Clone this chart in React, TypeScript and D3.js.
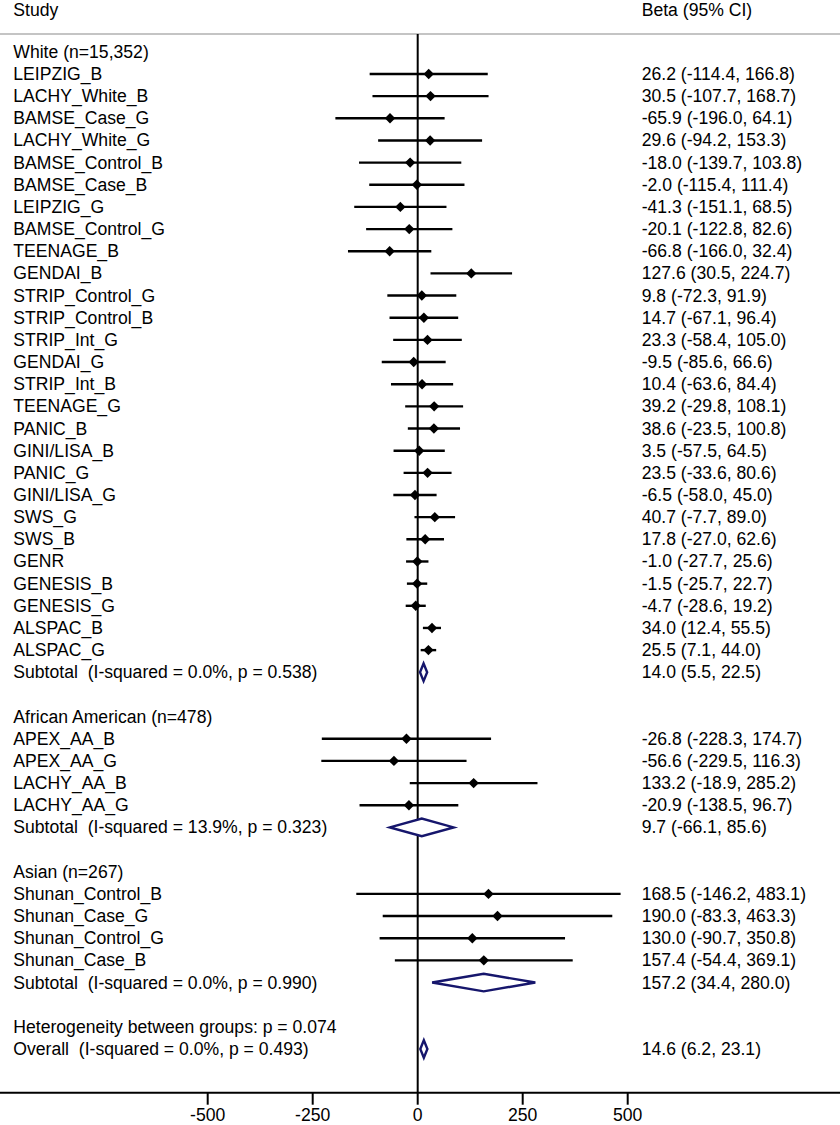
import { useEffect, useRef } from 'react';
import * as d3 from 'd3';

const W = 840;
const H = 1125;

// study rows, per group
const whiteStudies = [
  'LEIPZIG_B', 'LACHY_White_B', 'BAMSE_Case_G', 'LACHY_White_G', 'BAMSE_Control_B', 'BAMSE_Case_B',
  'LEIPZIG_G', 'BAMSE_Control_G', 'TEENAGE_B', 'GENDAI_B', 'STRIP_Control_G', 'STRIP_Control_B',
  'STRIP_Int_G', 'GENDAI_G', 'STRIP_Int_B', 'TEENAGE_G', 'PANIC_B', 'GINI/LISA_B', 'PANIC_G',
  'GINI/LISA_G', 'SWS_G', 'SWS_B', 'GENR', 'GENESIS_B', 'GENESIS_G', 'ALSPAC_B', 'ALSPAC_G',
];
const whiteBeta = [26.2, 30.5, -65.9, 29.6, -18.0, -2.0, -41.3, -20.1, -66.8, 127.6, 9.8, 14.7, 23.3, -9.5, 10.4, 39.2, 38.6, 3.5, 23.5, -6.5, 40.7, 17.8, -1.0, -1.5, -4.7, 34.0, 25.5];
const whiteLow = [-114.4, -107.7, -196.0, -94.2, -139.7, -115.4, -151.1, -122.8, -166.0, 30.5, -72.3, -67.1, -58.4, -85.6, -63.6, -29.8, -23.5, -57.5, -33.6, -58.0, -7.7, -27.0, -27.7, -25.7, -28.6, 12.4, 7.1];
const whiteHigh = [166.8, 168.7, 64.1, 153.3, 103.8, 111.4, 68.5, 82.6, 32.4, 224.7, 91.9, 96.4, 105.0, 66.6, 84.4, 108.1, 100.8, 64.5, 80.6, 45.0, 89.0, 62.6, 25.6, 22.7, 19.2, 55.5, 44.0];

const aaStudies = ['APEX_AA_B', 'APEX_AA_G', 'LACHY_AA_B', 'LACHY_AA_G'];
const aaBeta = [-26.8, -56.6, 133.2, -20.9];
const aaLow = [-228.3, -229.5, -18.9, -138.5];
const aaHigh = [174.7, 116.3, 285.2, 96.7];

const asianStudies = ['Shunan_Control_B', 'Shunan_Case_G', 'Shunan_Control_G', 'Shunan_Case_B'];
const asianBeta = [168.5, 190.0, 130.0, 157.4];
const asianLow = [-146.2, -83.3, -90.7, -54.4];
const asianHigh = [483.1, 463.3, 350.8, 369.1];

const groupNames = ['White (n=15,352)', 'African American (n=478)', 'Asian (n=267)'];
const subtotalLabels = [
  'Subtotal  (I-squared = 0.0%, p = 0.538)',
  'Subtotal  (I-squared = 13.9%, p = 0.323)',
  'Subtotal  (I-squared = 0.0%, p = 0.990)',
];
const subtotalBeta = [14.0, 9.7, 157.2];
const subtotalLow = [5.5, -66.1, 34.4];
const subtotalHigh = [22.5, 85.6, 280.0];

const heterogeneityLabel = 'Heterogeneity between groups: p = 0.074';
const overallLabel = 'Overall  (I-squared = 0.0%, p = 0.493)';
const overallBeta = 14.6;
const overallLow = 6.2;
const overallHigh = 23.1;

const xTicks = [-500, -250, 0, 250, 500];

type Row = { label: string; kind: 'head' | 'study' | 'sub' | 'text' | 'blank'; b?: number; lo?: number; hi?: number };

export default function App() {
  const ref = useRef<SVGSVGElement>(null);

  useEffect(() => {
    document.body.style.margin = '0';
    const svg = d3.select(ref.current);
    svg.selectAll('*').remove();

    const groups = [
      { names: whiteStudies, b: whiteBeta, lo: whiteLow, hi: whiteHigh },
      { names: aaStudies, b: aaBeta, lo: aaLow, hi: aaHigh },
      { names: asianStudies, b: asianBeta, lo: asianLow, hi: asianHigh },
    ];
    const rows: Row[] = [];
    groups.forEach((g, gi) => {
      rows.push({ label: groupNames[gi], kind: 'head' });
      g.names.forEach((n, i) => rows.push({ label: n, kind: 'study', b: g.b[i], lo: g.lo[i], hi: g.hi[i] }));
      rows.push({ label: subtotalLabels[gi], kind: 'sub', b: subtotalBeta[gi], lo: subtotalLow[gi], hi: subtotalHigh[gi] });
      rows.push({ label: '', kind: 'blank' });
    });
    rows.push({ label: heterogeneityLabel, kind: 'text' });
    rows.push({ label: overallLabel, kind: 'sub', b: overallBeta, lo: overallLow, hi: overallHigh });

    const x = d3.scaleLinear().domain([-500, 500]).range([207.7, 627.7]);
    const y = d3.scaleLinear().domain([0, rows.length - 1]).range([51.8, 1049]);
    const font = 'Liberation Sans, Arial, Helvetica, sans-serif';
    const fs = '17.6px';
    const navy = '#16166c';
    const axisY = 1092.7;

    svg.append('rect').attr('width', W).attr('height', H).attr('fill', '#fff');

    // header
    svg.append('text').attr('x', 13.3).attr('y', 10).attr('dominant-baseline', 'central')
      .style('font-family', font).style('font-size', fs).text('Study');
    svg.append('text').attr('x', 641.7).attr('y', 10).attr('dominant-baseline', 'central')
      .style('font-family', font).style('font-size', fs).text('Beta (95% CI)');
    svg.append('line').attr('x1', 0).attr('x2', W).attr('y1', 34).attr('y2', 34)
      .attr('stroke', '#c4c4c4').attr('stroke-width', 2);

    // zero line
    svg.append('line').attr('x1', x(0)).attr('x2', x(0)).attr('y1', 34).attr('y2', axisY)
      .attr('stroke', '#000').attr('stroke-width', 2);

    const fmt = (v: number) => v.toFixed(1);

    rows.forEach((r, i) => {
      const yy = y(i);
      if (r.label) {
        svg.append('text').attr('x', 13.3).attr('y', yy).attr('dominant-baseline', 'central')
          .attr('xml:space', 'preserve').style('white-space', 'pre')
          .style('font-family', font).style('font-size', fs).text(r.label);
      }
      if (r.b === undefined) return;
      svg.append('text').attr('x', 641.7).attr('y', yy).attr('dominant-baseline', 'central')
        .style('font-family', font).style('font-size', fs)
        .text(`${fmt(r.b)} (${fmt(r.lo!)}, ${fmt(r.hi!)})`);
      if (r.kind === 'study') {
        svg.append('line').attr('x1', x(r.lo!)).attr('x2', x(r.hi!)).attr('y1', yy).attr('y2', yy)
          .attr('stroke', '#000').attr('stroke-width', 2.4);
        const cx = x(r.b);
        const s = 5.2;
        svg.append('path')
          .attr('d', `M${cx},${yy - s}L${cx + s},${yy}L${cx},${yy + s}L${cx - s},${yy}Z`)
          .attr('fill', '#000');
      } else {
        const h = 8.8;
        svg.append('path')
          .attr('d', `M${x(r.lo!)},${yy}L${x(r.b)},${yy - h}L${x(r.hi!)},${yy}L${x(r.b)},${yy + h}Z`)
          .attr('fill', '#fff').attr('stroke', navy).attr('stroke-width', 2.4)
          .attr('stroke-linejoin', 'miter');
      }
    });

    // bottom axis
    svg.append('line').attr('x1', 0).attr('x2', W).attr('y1', axisY).attr('y2', axisY)
      .attr('stroke', '#000').attr('stroke-width', 2);
    const ticks = svg.append('g');
    ticks.selectAll('line').data(xTicks).join('line')
      .attr('x1', (d) => x(d)).attr('x2', (d) => x(d))
      .attr('y1', axisY).attr('y2', axisY + 12)
      .attr('stroke', '#000').attr('stroke-width', 2);
    ticks.selectAll('text').data(xTicks).join('text')
      .attr('x', (d) => x(d)).attr('y', 1115).attr('dominant-baseline', 'central')
      .attr('text-anchor', 'middle')
      .style('font-family', font).style('font-size', fs)
      .text((d) => String(d));
  }, []);

  return <svg ref={ref} width={W} height={H} style={{ display: 'block' }} />;
}
